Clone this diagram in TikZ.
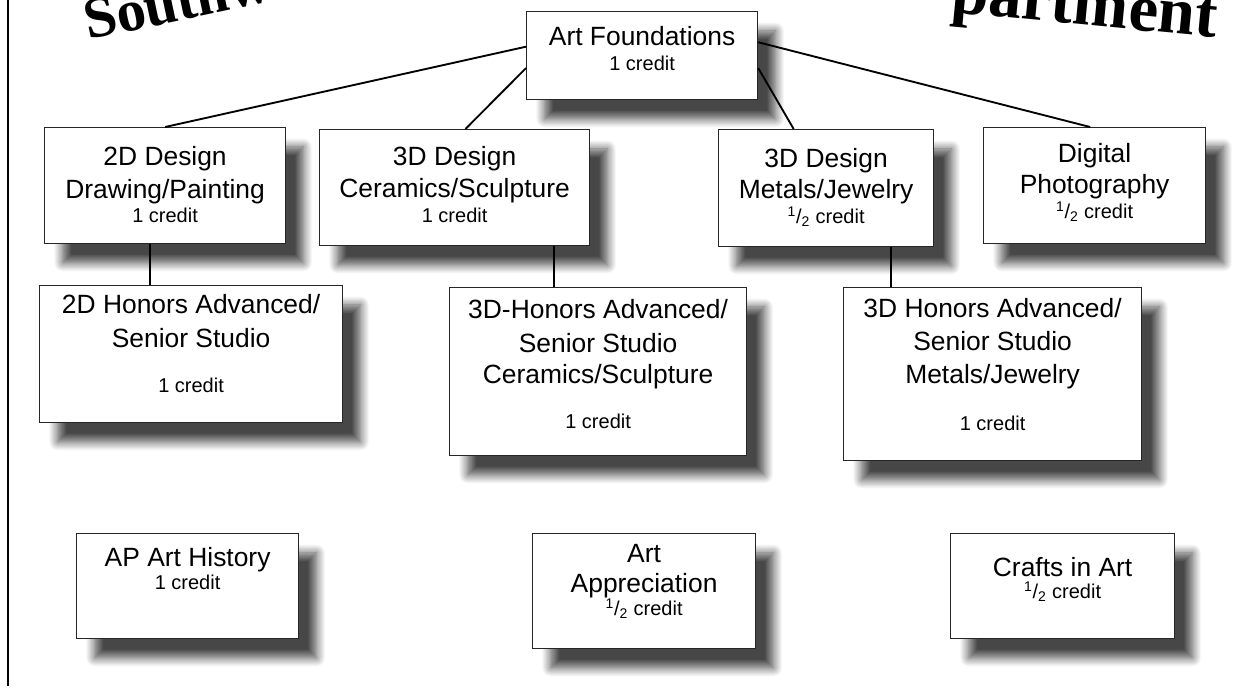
\documentclass[tikz,border=0pt]{standalone}
\usepackage{fontspec}
\setmainfont{Liberation Sans}
\newfontfamily\titlefont{Liberation Serif}
\usetikzlibrary{shadows.blur,calc}
\newcommand\half{\textsuperscript{1}/\textsubscript{2}}
% first big line: baseline at #1 from box top
\newcommand\FL[2]{\vspace*{\dimexpr#1-16pt\relax}{\fontsize{19.8pt}{20pt}\selectfont\rule{0pt}{16pt}#2\par}}
% further big line, baseline #1 below previous
\newcommand\BL[2]{{\fontsize{19.8pt}{#1}\selectfont #2\par}}
% credit line
\newcommand\CL[2]{{\fontsize{15pt}{#1}\selectfont #2\par}}
\newcommand\cbox[3]{\parbox[c][#2][t]{#1}{\centering\lineskiplimit=-\maxdimen #3}}
\tikzset{
  course/.style={draw=black!85, line width=0.9pt, fill=white, inner sep=0pt,
    anchor=north west,
    blur shadow={shadow xshift=13.5pt, shadow yshift=-14.5pt,
      shadow blur radius=6.5pt, shadow blur steps=12, shadow opacity=72}},
  link/.style={draw=black, line width=1.4pt},
  title/.style={font=\titlefont\bfseries, inner sep=0pt}
}
\begin{document}
\begin{tikzpicture}[x=0.75pt,y=-0.75pt]
\useasboundingbox (0,0) rectangle (1238,687);
\begin{scope}
\clip (0,0) rectangle (1238,687);
\node[title, font=\titlefont\bfseries\fontsize{44pt}{44pt}\selectfont, anchor=base west, rotate=12] (tleft) at (88,40) {Southwest};
\node[title, font=\titlefont\bfseries\fontsize{50pt}{50pt}\selectfont, anchor=base west, rotate=-5.5] (tright) at (950,12) {partment};
\end{scope}
\draw[line width=1.5pt] (8,0) -- (8,686);

\node[course] (af) at (526,11) {\cbox{173.25pt}{66pt}{\FL{25.5pt}{Art Foundations}\CL{18.75pt}{1 credit}}};
\node[course] (d2) at (44,127) {\cbox{180.75pt}{87pt}{\FL{28.5pt}{2D Design}\BL{24.75pt}{Drawing/Painting}\CL{18pt}{1 credit}}};
\node[course] (c3) at (319,129) {\cbox{202.5pt}{87pt}{\FL{27pt}{3D Design}\BL{24pt}{Ceramics/Sculpture}\CL{18.75pt}{1 credit}}};
\node[course] (m3) at (718,129) {\cbox{161.25pt}{87.75pt}{\FL{28.5pt}{3D Design}\BL{23.25pt}{Metals/Jewelry}\CL{18.75pt}{\half\ credit}}};
\node[course] (dp) at (983,127) {\cbox{166.5pt}{87pt}{\FL{26.25pt}{Digital}\BL{23.25pt}{Photography}\CL{18.75pt}{\half\ credit}}};
\node[course] (h2) at (39,285) {\cbox{227.25pt}{102.75pt}{\FL{21pt}{2D Honors Advanced/}\BL{25.5pt}{Senior Studio}\CL{33.75pt}{1 credit}}};
\node[course] (hc) at (449,287) {\cbox{222.75pt}{126pt}{\FL{23.25pt}{3D-Honors Advanced/}\BL{25.5pt}{Senior Studio}\BL{23.25pt}{Ceramics/Sculpture}\CL{33.75pt}{1 credit}}};
\node[course] (hm) at (843,287) {\cbox{223.5pt}{129.75pt}{\FL{22.5pt}{3D Honors Advanced/}\BL{24.75pt}{Senior Studio}\BL{24.75pt}{Metals/Jewelry}\CL{35.25pt}{1 credit}}};
\node[course] (ap) at (76,533) {\cbox{166.5pt}{78.75pt}{\FL{24.75pt}{AP Art History}\CL{17.25pt}{1 credit}}};
\node[course] (aa) at (532,533) {\cbox{167.25pt}{86.25pt}{\FL{21.75pt}{Art}\BL{22.5pt}{Appreciation}\CL{17.25pt}{\half\ credit}}};
\node[course] (cr) at (950,533) {\cbox{168pt}{78.75pt}{\FL{32.25pt}{Crafts in Art}\CL{16.5pt}{\half\ credit}}};

\draw[link] ($(af.north west)!0.40!(af.south west)$) -- (d2.north);
\draw[link] ($(af.north west)!0.64!(af.south west)$) -- ($(c3.north west)!0.54!(c3.north east)$);
\draw[link] ($(af.north east)!0.64!(af.south east)$) -- ($(m3.north west)!0.35!(m3.north east)$);
\draw[link] ($(af.north east)!0.35!(af.south east)$) -- ($(dp.north west)!0.48!(dp.north east)$);
\coordinate (p1) at ($(d2.south west)!0.436!(d2.south east)$);
\draw[link] (p1) -- (p1 |- h2.north);
\coordinate (p2) at ($(c3.south west)!0.867!(c3.south east)$);
\draw[link] (p2) -- (p2 |- hc.north);
\coordinate (p3) at ($(m3.south west)!0.8!(m3.south east)$);
\draw[link] (p3) -- (p3 |- hm.north);
\end{tikzpicture}
\end{document}
